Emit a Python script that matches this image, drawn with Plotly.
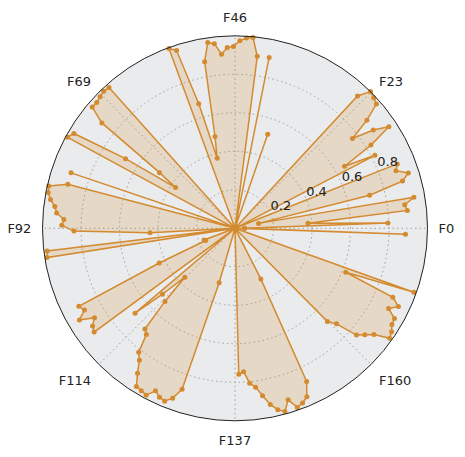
import plotly.graph_objects as go

N = 183
values = [
    0.05, 0.795, 0.38, 0.90, 0.89, 0.943, 0.125, 0.72, 0.904, 0.945,   # 0-9
    0.888, 0.907, 0.0, 0.0, 0.82, 0.654, 0.828, 0.958, 0.881, 0.768,   # 10-19
    0.886, 0.978, 0.99, 1.0, 0.937, 0, 0, 0, 0, 0,                     # 20-29
    0, 0, 0, 0, 0, 0, 0.517, 0, 0, 0,                                  # 30-39
    0.905, 0, 0.901, 0.995, 0.99, 0.974, 0.945, 0.94, 0.907, 0.965,   # 40-49
    0.975, 0.88, 0.488, 0.376, 0.674, 0.972, 0.995, 0, 0, 0,          # 50-59
    0, 0, 0, 0, 0, 0, 0, 0.982, 0.986, 0.979,                         # 60-69
    0.971, 0.973, 0.882, 0.487, 0.374, 0.674, 0.971, 0.99, 0, 0,      # 70-79
    0, 0, 0.899, 0, 0.898, 0.992, 0.988, 0.97, 0.943, 0.93,           # 80-89
    0.89, 0.90, 0.837, 0.442, 0, 0.983, 0.988, 0, 0, 0,              # 90-99
    0, 0, 0.172, 0.165, 0.433, 0.907, 0.89, 0.938, 0.865, 0.897,      # 100-109
    0.909, 0, 0.681, 0.509, 0.364, 0.526, 0.702, 0.719, 0.815, 0.847, # 110-119
    0.907, 0.968, 0.974, 0.982, 0.94, 0.961, 0.97, 0.94, 0.88, 0.295, # 120-129
    0, 0, 0, 0, 0, 0, 0, 0, 0.759, 0.746,                             # 130-139
    0.808, 0.832, 0.881, 0.934, 0.968, 0.986, 0.933, 0.985, 0.973, 0.951,  # 140-149
    0.878, 0.295, 0, 0, 0, 0, 0, 0, 0, 0,                             # 150-159
    0.682, 0.724, 0.84, 0.872, 0.908, 0.986, 0.975, 0.956, 0.952, 0.90,    # 160-169
    0.941, 0.895, 0.619, 0.987, 0, 0, 0, 0, 0, 0,                     # 170-179
    0, 0, 0.886,                                                      # 180-182
]
feature_names = [f"F{i}" for i in range(N)]
tick_indices = [0, 23, 46, 69, 92, 114, 137, 160]
tick_angles = [0, 45, 90, 135, 180, 225, 270, 315]
tick_labels = [feature_names[i] for i in tick_indices]
radial_ticks = [0.2, 0.4, 0.6, 0.8]
radial_labels = [f"{v:.1f}" for v in radial_ticks]
radial_label_angle = 22.5

theta = [i * 360.0 / N for i in range(N)]
r_closed = list(values) + [values[0]]
theta_closed = theta + [theta[0]]

line_color = "rgb(212,138,46)"
grid_color = "#9E9E9E"
grid_dash = "1.5px,3px"

fig = go.Figure()
fig.add_trace(go.Scatterpolar(
    r=r_closed,
    theta=theta_closed,
    mode="lines+markers",
    fill="toself",
    fillcolor="rgba(212,138,46,0.2)",
    line=dict(color=line_color, width=1.5),
    marker=dict(color=line_color, size=5),
    hoverinfo="skip",
))
# radial tick labels, placed like matplotlib's (horizontal, beside the 22.5° ray)
fig.add_trace(go.Scatterpolar(
    r=radial_ticks,
    theta=[radial_label_angle] * len(radial_ticks),
    mode="text",
    text=radial_labels,
    textposition="top right",
    textfont=dict(family="DejaVu Sans", size=13, color="#222"),
    hoverinfo="skip",
    cliponaxis=False,
))

fig.update_layout(
    width=465, height=457,
    margin=dict(l=0, r=0, t=0, b=0),
    paper_bgcolor="white",
    showlegend=False,
    font=dict(family="DejaVu Sans", size=13, color="#222"),
    polar=dict(
        domain=dict(x=[42.5 / 465, 427.5 / 465], y=[1 - 420.8 / 457, 1 - 35.8 / 457]),
        bgcolor="#EAEBED",
        angularaxis=dict(
            direction="counterclockwise",
            rotation=0,
            tickmode="array",
            tickvals=tick_angles,
            ticktext=tick_labels,
            showline=True,
            linecolor="#222",
            linewidth=1,
            ticks="outside",
            ticklen=8,
            tickcolor="rgba(0,0,0,0)",
            showgrid=True,
            gridcolor=grid_color,
            griddash=grid_dash,
            gridwidth=1,
            tickfont=dict(size=13, color="#222"),
        ),
        radialaxis=dict(
            range=[0, 1.0],
            tickmode="array",
            tickvals=radial_ticks,
            showticklabels=False,
            angle=radial_label_angle,
            showline=False,
            ticks="",
            showgrid=True,
            gridcolor=grid_color,
            griddash=grid_dash,
            gridwidth=1,
        ),
    ),
)

fig.write_html("out.html")
